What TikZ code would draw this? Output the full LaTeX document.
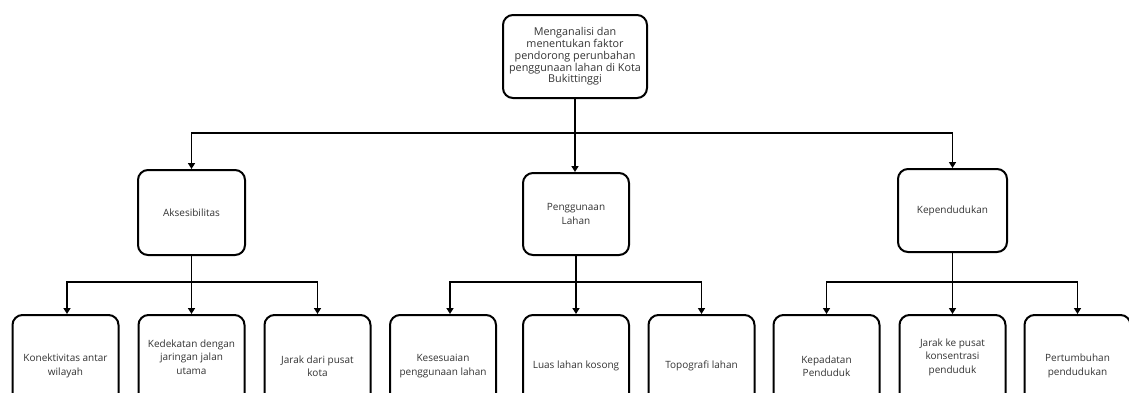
\documentclass[tikz,border=0pt]{standalone}
\usepackage{fontspec}
\setmainfont{Open Sans}
\usetikzlibrary{arrows.meta}
\definecolor{textgray}{HTML}{333333}
\begin{document}
\begin{tikzpicture}[x=1pt,y=-1pt,
  box/.style={draw, line width=2pt, rounded corners=10pt, align=center,
    font=\fontsize{10}{13.5}\selectfont, text=textgray, inner sep=0pt},
  txt/.style={align=center, font=\fontsize{10}{13.5}\selectfont, text=textgray, inner sep=0pt},
  conn/.style={line width=1.8pt},
  arr/.style={conn,-{Triangle[length=6pt,width=7pt]}}]
\useasboundingbox (0,0) rectangle (1129,392);
\clip (0,0) rectangle (1129,392);
\fill[white] (0,0) rectangle (1129,392);

\node[box, minimum width=144pt, minimum height=83pt, font=\fontsize{10.8}{11.8}\selectfont] (top) at (575,56.5)
  {Menganalisi dan\\menentukan faktor\\pendorong perunbahan\\penggunaan lahan di Kota\\Bukittinggi};

\node[box, minimum width=107pt, minimum height=85pt] (aks) at (191.5,212.5) {Aksesibilitas};
\node[box, minimum width=106pt, minimum height=82pt] (pgl) at (576,214) {Penggunaan\\Lahan};
\node[box, minimum width=109pt, minimum height=83pt] (kep) at (952.5,210.5) {Kependudukan};

\tikzset{leaf/.style={box, minimum width=106pt, minimum height=102pt}}
\node[leaf] (b1) at (65.5,366) {Konektivitas antar\\wilayah};
\node[leaf] (b2) at (191.5,366) {};
\node[txt] (b2t) at ([yshift=9pt]b2.center) {Kedekatan dengan\\jaringan jalan\\utama};
\node[leaf] (b3) at (317.5,366) {Jarak dari pusat\\kota};
\node[leaf] (b4) at (443,366) {Kesesuaian\\penggunaan lahan};
\node[leaf] (b5) at (576,366) {Luas lahan kosong};
\node[leaf] (b6) at (701.5,366) {Topografi lahan};
\node[leaf] (b7) at (826.5,366) {Kepadatan\\Penduduk};
\node[leaf] (b8) at (952.5,366) {};
\node[txt] (b8t) at ([yshift=9pt]b8.center) {Jarak ke pusat\\konsentrasi\\penduduk};
\node[leaf] (b9) at (1077.5,366) {Pertumbuhan\\pendudukan};

\coordinate (h1) at (0,133);
\coordinate (h2) at (0,282);

% level 1 -> 2
\draw[arr] (top.south) -- (top.south |- pgl.north);
\draw[arr] (top.south |- h1) -| (aks.north);
\draw[arr] (top.south |- h1) -| (kep.north);

% level 2 -> 3
\draw[arr] (aks.south) -- (aks.south |- b2.north);
\draw[arr] (aks.south |- h2) -| ([xshift=1.5pt]b1.north);
\draw[arr] (aks.south |- h2) -| (b3.north);

\draw[arr] (pgl.south) -- (b5.north);
\draw[arr] (pgl.south |- h2) -| ([xshift=7pt]b4.north);
\draw[arr] (pgl.south |- h2) -| (b6.north);

\draw[arr] (kep.south) -- (b8.north);
\draw[arr] (kep.south |- h2) -| (b7.north);
\draw[arr] (kep.south |- h2) -| (b9.north);
\end{tikzpicture}
\end{document}
